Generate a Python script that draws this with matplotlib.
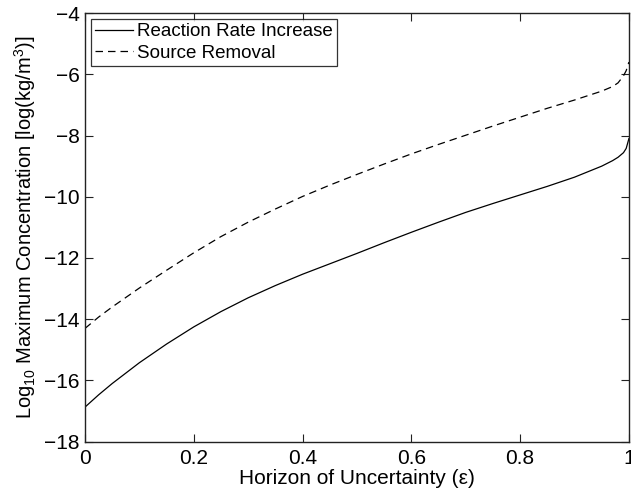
import matplotlib
matplotlib.use("Agg")
import matplotlib.pyplot as plt

plt.rcParams['font.family'] = ['Liberation Sans', 'DejaVu Sans']
plt.rcParams['mathtext.fontset'] = 'custom'
plt.rcParams['mathtext.rm'] = 'Liberation Sans'
plt.rcParams['mathtext.it'] = 'Liberation Sans:italic'

# horizon of uncertainty values
horizon = [0, 0.025, 0.05, 0.1, 0.15, 0.2, 0.25, 0.3, 0.35, 0.4, 0.45, 0.5, 0.55,
           0.6, 0.65, 0.7, 0.75, 0.8, 0.85, 0.9, 0.95, 0.97, 0.98, 0.99, 0.995, 1.0]

# log10 max concentration
reaction_rate = [-16.87, -16.47, -16.1, -15.42, -14.81, -14.25, -13.75, -13.3, -12.9,
                 -12.53, -12.19, -11.85, -11.5, -11.16, -10.83, -10.51, -10.22, -9.94,
                 -9.66, -9.36, -9.0, -8.82, -8.71, -8.56, -8.42, -8.1]
source_removal = [-14.3, -13.93, -13.6, -12.98, -12.4, -11.83, -11.3, -10.83, -10.4,
                  -9.99, -9.62, -9.27, -8.93, -8.6, -8.29, -7.99, -7.69, -7.4,
                  -7.11, -6.84, -6.55, -6.4, -6.28, -6.05, -5.88, -5.6]

x_ticks = [0, 0.2, 0.4, 0.6, 0.8, 1]
x_labels = ['0', '0.2', '0.4', '0.6', '0.8', '1']
y_ticks = [-18, -16, -14, -12, -10, -8, -6, -4]

fig = plt.figure(figsize=(6.31, 4.91), dpi=100)
ax = fig.add_axes([0.1347, 0.1004, 0.862, 0.873])

ax.plot(horizon, reaction_rate, color='black', linestyle='-', linewidth=0.9,
        label='Reaction Rate Increase')
ax.plot(horizon, source_removal, color='black', linestyle='--', linewidth=0.9,
        dashes=(6, 4), label='Source Removal')

ax.set_xlim(0, 1)
ax.set_ylim(-18, -4)
ax.set_xticks(x_ticks)
ax.set_xticklabels(x_labels)
ax.set_yticks(y_ticks)

ax.tick_params(direction='in', length=5.5, width=0.8, labelsize=15,
               top=True, right=True, colors='#222222', labelcolor='black')
ax.tick_params(axis='x', pad=5)
ax.tick_params(axis='y', pad=4)
for s in ax.spines.values():
    s.set_linewidth(1.0)
    s.set_color('#222222')

ax.set_xlabel('Horizon of Uncertainty (ε)', fontsize=15, labelpad=1)
ax.set_ylabel('Log$_{10}$ Maximum Concentration [log(kg/m$^3$)]', fontsize=14.5, labelpad=4)

leg = ax.legend(loc='upper left', fontsize=13.5, frameon=True, fancybox=False,
                edgecolor='black', borderpad=0.25, labelspacing=0.22,
                handlelength=2.0, handletextpad=0.2, borderaxespad=0.3)
leg.get_frame().set_linewidth(0.9)

fig.savefig('out.png', dpi=100)
